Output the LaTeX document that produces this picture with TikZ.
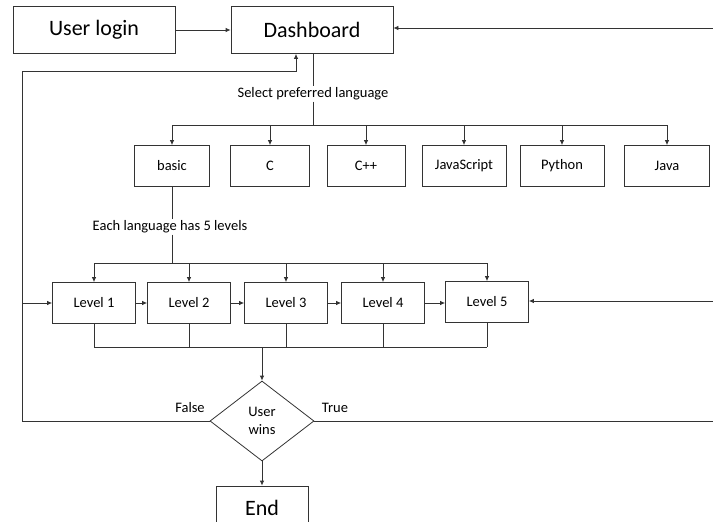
\documentclass[tikz,border=0pt]{standalone}
\usepackage{fontspec}
\setmainfont{Carlito}
\usetikzlibrary{arrows.meta,shapes.geometric}

\begin{document}
\begin{tikzpicture}[x=1pt,y=-1pt,line width=0.8pt,draw=black!80,
        bigbox/.style={draw,minimum width=162pt,minimum height=47pt,inner sep=0pt,font=\fontsize{22}{24}\selectfont},
        langbox/.style={draw,minimum height=41pt,inner sep=0pt,font=\fontsize{14.5}{16}\selectfont},
        lvlbox/.style={draw,minimum width=83pt,minimum height=41pt,inner sep=0pt,font=\fontsize{14.5}{16}\selectfont},
        decision/.style={draw,diamond,aspect=1.3,minimum width=104pt,minimum height=80pt,inner sep=0pt,align=center,font=\fontsize{14.5}{18}\selectfont},
        lbl/.style={inner sep=1pt,font=\fontsize{14.5}{16}\selectfont},
        arr/.style={-{Latex[length=5pt,width=4.5pt]}}]
        \useasboundingbox (0,0) rectangle (713,522);
        % top row
        \node[bigbox] (login) at (94,30) {User login};
        \node[bigbox] (dash) at (312,30) {Dashboard};
        \draw[arr] (login) -- (dash);
        \coordinate (rtop) at (715,28);
        \draw[arr] (rtop) -- (rtop -| dash.east);
        % languages
        \node[lbl] (select) at (313,94) {Select preferred language};
        \coordinate (langbus) at (313,125);
        \foreach \nm/\xc/\bw/\txt in {basic/172/75/basic, c/270/79/C, cpp/366/78/C++, js/464/84/JavaScript, py/562/84/Python, java/667/85/Java}
            \node[langbox,minimum width=\bw pt] (\nm) at (\xc,166) {\txt};
        \draw (dash.south -| select) -- (select.north);
        \draw (select.south) -- (langbus);
        \draw (basic.north |- langbus) -- (java.north |- langbus);
        \foreach \nm in {basic,c,cpp,js,py,java}
            \draw[arr] (\nm.north |- langbus) -- (\nm.north);
        % levels
        \node[lbl] (each) at (170,227) {Each language has 5 levels};
        \coordinate (lvlbus) at (172,263);
        \foreach \i/\xc/\yc in {1/94/303, 2/189/303, 3/286/303, 4/383/303, 5/487/302}
            \node[lvlbox] (lv\i) at (\xc,\yc) {Level \i};
        \draw (basic.south) -- (basic.south |- each.north);
        \draw (basic.south |- each.south) -- (lvlbus);
        \draw (lv1.north |- lvlbus) -- (lv5.north |- lvlbus);
        \foreach \i in {1,...,5}
            \draw[arr] (lv\i.north |- lvlbus) -- (lv\i.north);
        \foreach \i/\j in {1/2,2/3,3/4,4/5}
            \draw[arr] (lv\i.east) -- (lv\i.east -| lv\j.west);
        \coordinate (rlvl) at (715,301);
        \draw[arr] (rlvl) -- (rlvl -| lv5.east);
        % decision
        \node[decision] (dec) at (262,421) {User\\wins};
        \coordinate (joinbus) at (262,347);
        \foreach \i in {1,...,5}
            \draw (lv\i.south) -- (lv\i.south |- joinbus);
        \draw (lv1.south |- joinbus) -- (lv5.south |- joinbus);
        \draw[arr] (joinbus) -- (dec.north);
        \node[lbl] (false) at (190,408) {False};
        \node[lbl] (true) at (335,408) {True};
        \node[bigbox,minimum width=92pt,minimum height=44pt] (end) at (262,508) {End};
        \draw[arr] (dec.south) -- (end.north);
        % feedback lines
        \coordinate (lft) at (22,421);
        \coordinate (fb) at (296,71);
        \draw[arr] (dec.west) -- (lft) |- (fb) -- (fb |- dash.south);
        \draw[arr] (lft |- lv1.west) -- (lv1.west);
        \coordinate (rbot) at (715,421);
        \draw (dec.east) -- (rbot);
    \end{tikzpicture}
\end{document}
